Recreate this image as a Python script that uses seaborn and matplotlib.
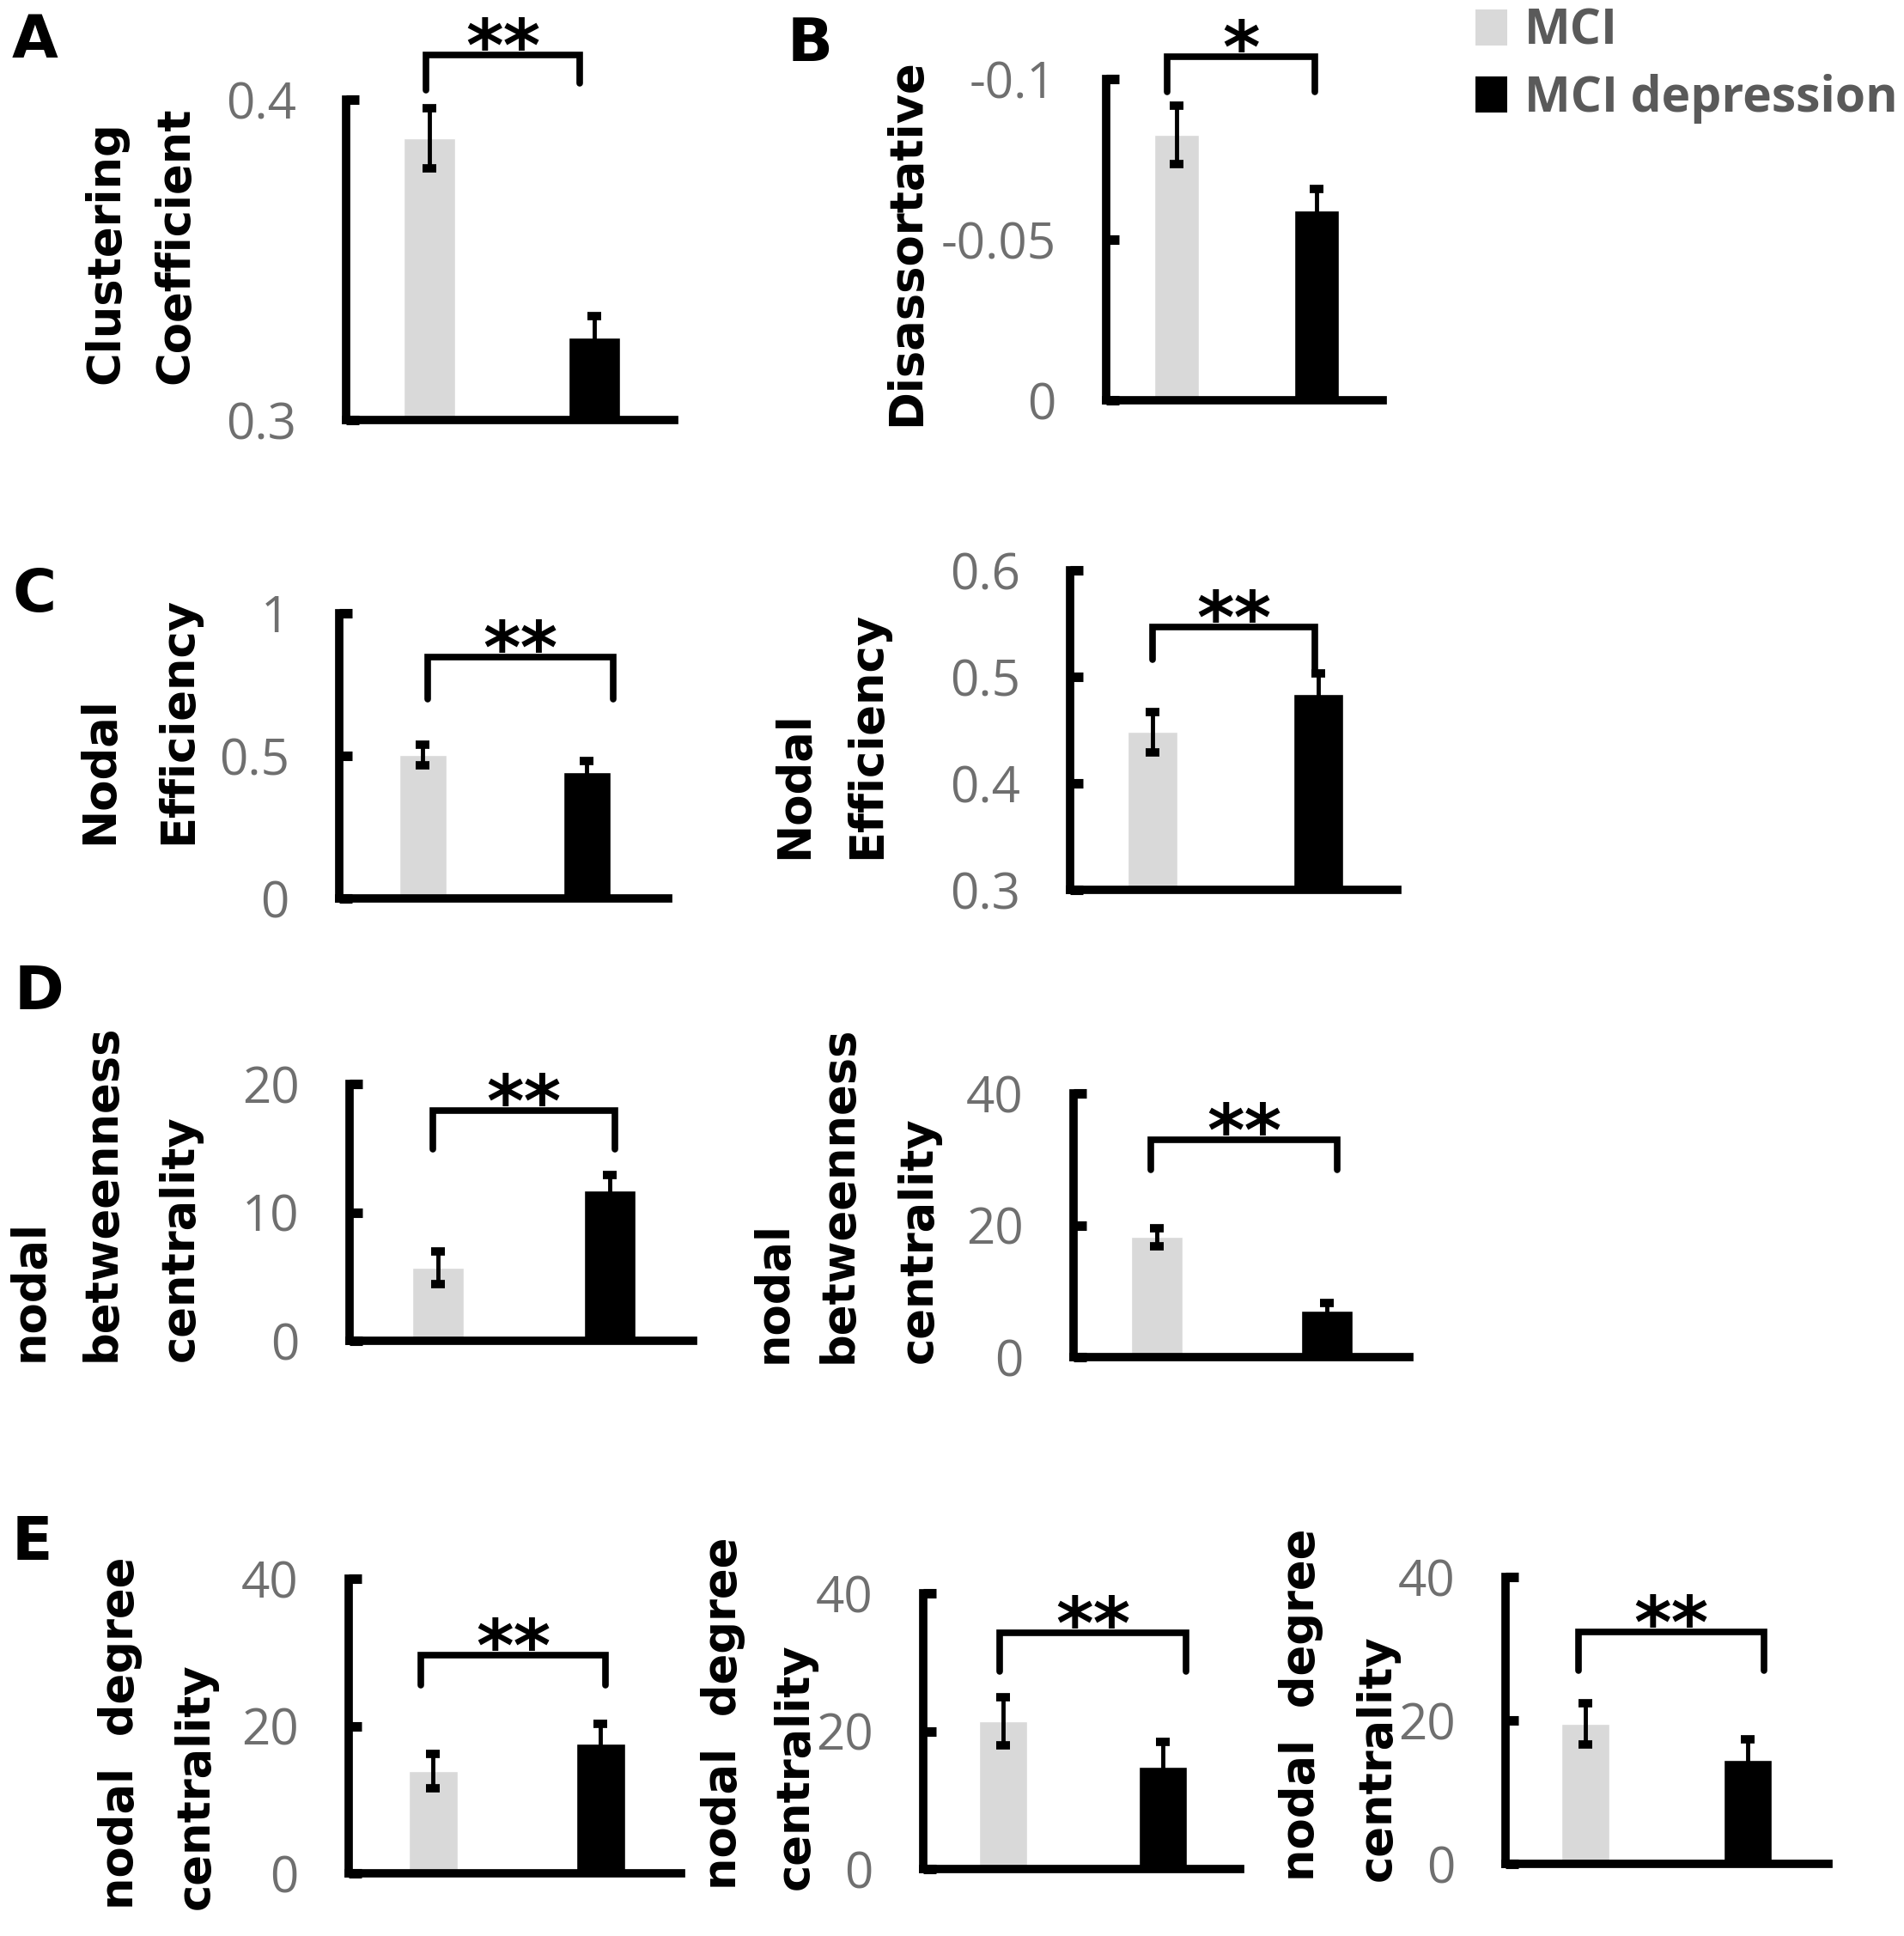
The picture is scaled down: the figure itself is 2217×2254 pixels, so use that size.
import matplotlib
matplotlib.use("Agg")
import matplotlib.pyplot as plt
from matplotlib.patches import Patch
import seaborn as sns

# ---- data ----
groups = ["MCI", "MCI depression"]
panel_ids = ["A", "B", "C1", "C2", "D1", "D2", "E1", "E2", "E3"]
mci_mean = [0.388, -0.0826, 0.503, 0.448, 5.7, 18.2, 13.9, 21.4, 19.5]
mci_err = [0.0094, 0.0091, 0.035, 0.019, 1.27, 1.4, 2.3, 3.5, 2.9]
dep_mean = [0.3257, -0.059, 0.443, 0.484, 11.7, 7.0, 17.6, 14.8, 14.5]
dep_err = [0.0067, 0.0067, 0.04, 0.019, 1.2, 1.2, 2.7, 3.6, 2.9]
y_ticks = [[0.3, 0.4], [0, -0.05, -0.1], [0, 0.5, 1], [0.3, 0.4, 0.5, 0.6],
           [0, 10, 20], [0, 20, 40], [0, 20, 40], [0, 20, 40], [0, 20, 40]]
y_ticklabels = [["0.3", "0.4"], ["0", "-0.05", "-0.1"], ["0", "0.5", "1"],
                ["0.3", "0.4", "0.5", "0.6"], ["0", "10", "20"], ["0", "20", "40"],
                ["0", "20", "40"], ["0", "20", "40"], ["0", "20", "40"]]
y_labels = [["Clustering", "Coefficient"], ["Disassortative"],
            ["Nodal", "Efficiency"], ["Nodal", "Efficiency"],
            ["nodal", "betweenness", "centrality"], ["nodal", "betweenness", "centrality"],
            ["nodal  degree", "centrality"], ["nodal  degree", "centrality"],
            ["nodal  degree", "centrality"]]
stars = ["**", "*", "**", "**", "**", "**", "**", "**", "**"]
# significance bracket: x left, x right, bar level, left leg end, right leg end (data units)
brackets = [(-0.02, 0.91, 0.414, 0.403, 0.405),
            (-0.07, 0.99, -0.107, -0.096, -0.096),
            (0.03, 1.16, 0.846, 0.699, 0.699),
            (0.0, 0.98, 0.547, 0.516, 0.505),
            (-0.03, 1.03, 17.9, 14.9, 14.9),
            (-0.035, 1.06, 33.0, 28.4, 28.4),
            (-0.07, 1.03, 29.6, 25.5, 25.5),
            (-0.02, 1.145, 34.3, 28.7, 28.7),
            (-0.04, 1.10, 32.3, 26.9, 26.9)]

# ---- layout in pixels of the 2217x2254 canvas ----
W, H = 2217, 2254
# spine x, x-axis end, top tick y, x-axis y, light bar centre, dark bar centre, bar width
boxes = [(403, 785, 116, 489, 500, 692, 60),
         (1288, 1610, 92, 466, 1370, 1533, 52),
         (395, 778, 714, 1046, 492, 683, 55),
         (1246, 1627, 664, 1036, 1342, 1535, 58),
         (407, 807, 1262, 1561, 510, 710, 60),
         (1250, 1641, 1273, 1580, 1347, 1545, 60),
         (406, 793, 1838, 2181, 504, 699, 57),
         (1075, 1444, 1855, 2176, 1168, 1354, 56),
         (1753, 2129, 1836, 2170, 1846, 2035, 56)]
# y-label line centres (x) and common bottom (y)
label_pos = [([123, 204], 447), ([1055], 496), ([116, 207], 983), ([925, 1009], 1000),
             ([35, 119, 210], 1585), ([901, 977, 1070], 1587),
             ([140, 228], 2223), ([842, 926], 2200), ([1515, 1604], 2190)]
letters = [("A", 14, 14), ("B", 917, 18), ("C", 14, 659), ("D", 17, 1122), ("E", 14, 1763)]

light = "#d9d9d9"
dark = "#000000"
tick_gray = "#6f6f6f"

sns.set_theme(style="white")
plt.rcParams["font.family"] = ["DejaVu Sans"]

fig = plt.figure(figsize=(W / 100, H / 100), dpi=100)

for i, pid in enumerate(panel_ids):
    x0, x1, ytop, ybot, c_l, c_d, bw = boxes[i]
    ax = fig.add_axes([x0 / W, 1 - ybot / H, (x1 - x0) / W, (ybot - ytop) / H])
    spacing = c_d - c_l

    sns.barplot(x=groups, y=[mci_mean[i], dep_mean[i]], hue=groups,
                palette=[light, dark], width=bw / spacing, legend=False,
                saturation=1, ax=ax)
    ax.errorbar([0, 1], [mci_mean[i], dep_mean[i]], yerr=[mci_err[i], dep_err[i]],
                fmt="none", ecolor="black", elinewidth=3.5, capsize=6, capthick=7, zorder=3)

    ticks = y_ticks[i]
    if pid == "B":
        ax.set_ylim(0, -0.1)
    else:
        ax.set_ylim(min(ticks), max(ticks))
    ax.set_xlim(-(c_l - x0) / spacing, 1 + (x1 - c_d) / spacing)
    ax.set_yticks(ticks)
    ax.set_yticklabels(y_ticklabels[i], fontfamily="Open Sans", fontsize=42, color=tick_gray)
    ax.tick_params(axis="y", left=True, direction="in", length=11, width=8,
                   color="black", pad=42)
    ax.set_xticks([])
    ax.set_xlabel("")
    ax.set_ylabel("")

    for side in ["top", "right"]:
        ax.spines[side].set_visible(False)
    for side in ["left", "bottom"]:
        ax.spines[side].set_linewidth(7)
        ax.spines[side].set_color("black")
        ax.spines[side].set_zorder(4)

    # significance bracket and stars
    bl, br, by, ll, rl = brackets[i]
    ax.plot([bl, bl, br, br], [ll, by, by, rl], color="black", lw=5.5,
            clip_on=False, solid_joinstyle="miter", zorder=5)
    ax.annotate(stars[i], xy=((bl + br) / 2, by), xytext=(0, -13),
                textcoords="offset points", ha="center", va="baseline",
                fontsize=60, fontweight="bold", color="black", annotation_clip=False)

    # y-axis label lines
    xs, bottom = label_pos[i]
    for line, lx in zip(y_labels[i], xs):
        fig.text(lx / W, 1 - bottom / H, line, rotation=90, ha="center", va="bottom",
                 fontsize=38, fontweight="bold", color="black")

for letter, lx, ly in letters:
    fig.text(lx / W, 1 - ly / H, letter, ha="left", va="top",
             fontsize=50, fontweight="bold", color="black")

handles = [Patch(facecolor=light, edgecolor="none"), Patch(facecolor=dark, edgecolor="none")]
fig.legend(handles, groups, loc="upper left", bbox_to_anchor=(1718 / W, 1 - 8 / H),
           frameon=False, prop={"family": "Open Sans", "weight": "bold", "size": 41},
           labelcolor="#5a5a5a", handlelength=0.65, handleheight=0.75,
           handletextpad=0.35, labelspacing=0.35, borderpad=0, borderaxespad=0)

fig.savefig("out.png", dpi=100, facecolor="white")
